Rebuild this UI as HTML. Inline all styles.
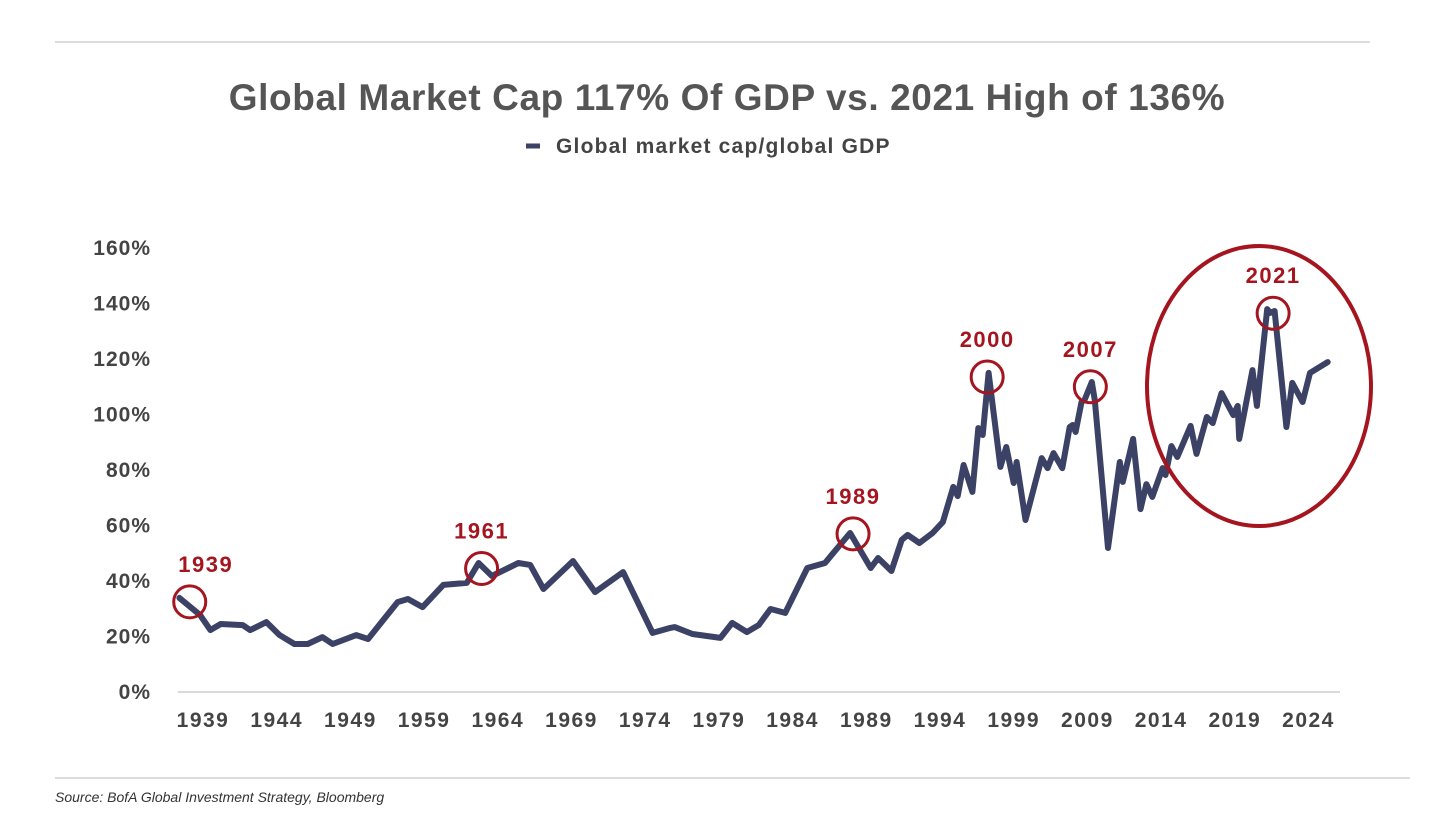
<!DOCTYPE html>
<html><head><meta charset="utf-8"><style>
body{margin:0;background:#fff;}
svg{display:block;font-family:"Liberation Sans",sans-serif;}
</style></head><body>
<svg id="chart" width="1456" height="819">
<line x1="55" y1="42" x2="1370" y2="42" stroke="#d0d0d0" stroke-width="1.5"/>
<text x="727" y="110" text-anchor="middle" font-size="37" font-weight="bold" fill="#555" letter-spacing="0.6">Global Market Cap 117% Of GDP vs. 2021 High of 136%</text>
<g>
<line x1="526" y1="146" x2="540" y2="146" stroke="#3b4266" stroke-width="5"/>
<text x="556" y="153" font-size="21" font-weight="bold" fill="#444" letter-spacing="1.2">Global market cap/global GDP</text>
</g>
<g id="yaxis"></g>
<g id="xaxis"></g>
<g id="series"></g>
<g id="annot"></g>
<line x1="55" y1="778" x2="1410" y2="778" stroke="#d0d0d0" stroke-width="1.5"/>
<text x="55" y="802" font-size="14" font-style="italic" fill="#333">Source: BofA Global Investment Strategy, Bloomberg</text>
</svg>
<script>
const xLabels=["1939","1944","1949","1959","1964","1969","1974","1979","1984","1989","1994","1999","2009","2014","2019","2024"];
const yTicks=[0,20,40,60,80,100,120,140,160];
const periods=[1937.4,1938.8,1939.5,1940.2,1941.7,1942.2,1943.3,1944.2,1945.2,1946.1,1947.1,1947.8,1949.4,1950.2,1952.2,1952.9,1953.9,1955.3,1956.9,1957.7,1958.6,1960.4,1961.2,1962.1,1964.1,1965.6,1967.5,1969.5,1970.7,1971.0,1972.2,1974.1,1974.9,1975.9,1976.7,1977.5,1978.5,1980.0,1981.2,1981.7,1982.9,1984.3,1984.8,1985.7,1986.4,1986.8,1987.6,1988.5,1989.2,1989.9,1990.2,1990.6,1991.2,1991.6,1991.9,1992.3,1993.1,1993.5,1994.0,1994.2,1994.8,1995.9,1996.3,1996.7,1997.3,1997.8,1998.0,1998.2,1998.6,1998.8,1999.3,1999.5,2000.4,2001.2,2001.4,2002.1,2002.6,2003.0,2003.4,2004.1,2004.3,2004.7,2005.1,2006.0,2006.4,2007.1,2007.5,2008.1,2008.9,2009.2,2009.3,2010.2,2010.5,2011.2,2011.4,2011.7,2012.5,2012.9,2013.6,2014.1,2015.3];
const values=[33.9,27.7,22.3,24.5,24.1,22.3,25.2,20.5,17.3,17.3,19.8,17.3,20.5,19.1,32.4,33.5,30.6,38.6,39.3,46.5,41.8,46.5,45.8,37.1,47.2,36.0,43.2,21.3,23.1,23.4,20.9,19.5,24.9,21.6,24.1,29.9,28.5,44.7,46.5,49.7,57.3,44.7,48.3,43.6,54.8,56.6,53.7,57.3,61.3,73.9,70.6,81.8,72.1,95.1,92.6,115.0,81.1,88.3,75.3,82.9,62.0,84.3,80.7,86.1,80.7,95.5,96.2,93.7,104.5,105.2,111.7,105.2,51.9,82.9,75.7,91.2,65.9,74.9,70.3,80.7,78.2,88.6,84.7,95.9,85.8,99.1,96.9,107.7,99.8,103.1,91.2,116.0,103.1,138.0,136.6,137.3,95.5,111.4,104.5,115.0,118.9];
const annLabels=["1939","1961","1989","2000","2007","2021"];
const annPeriods=[1938.1,1957.9,1983.1,1992.2,1999.2,2011.6];
const annValues=[32.5,44.5,57,113.5,110,136.5];

const NS="http://www.w3.org/2000/svg";
const X0=203,XSTEP=14.74,Y0=692,YK=2.775;
const xs=p=>X0+(p-1939)*XSTEP;
const ys=v=>Y0-v*YK;
function mk(t,a,parent){const e=document.createElementNS(NS,t);for(const k in a)e.setAttribute(k,a[k]);parent.appendChild(e);return e;}
const ya=document.getElementById('yaxis'),xa=document.getElementById('xaxis'),sg=document.getElementById('series'),an=document.getElementById('annot');
yTicks.forEach(v=>{const t=mk('text',{x:151,y:ys(v)+7,'text-anchor':'end','font-size':21,'font-weight':'bold',fill:'#444','letter-spacing':1},ya);t.textContent=v+'%';

});
const base=mk('line',{x1:178,y1:Y0,x2:1340,y2:Y0,stroke:'#d9d9d9','stroke-width':2},xa);


xLabels.forEach((l,i)=>{const t=mk('text',{x:xs(1939+5*i),y:727,'text-anchor':'middle','font-size':21,'font-weight':'bold',fill:'#444','letter-spacing':1.5},xa);t.textContent=l;

});
const d=periods.map((p,i)=>(i?'L':'M')+xs(p).toFixed(1)+','+ys(values[i]).toFixed(1)).join('');
const path=mk('path',{d:d,fill:'none',stroke:'#3b4266','stroke-width':6,'stroke-linejoin':'round','stroke-linecap':'round'},sg);


const RED='#a5151f';
annLabels.forEach((l,i)=>{const cx=xs(annPeriods[i]),cy=ys(annValues[i]);
const c=mk('circle',{cx:cx,cy:cy,r:16,fill:'none',stroke:RED,'stroke-width':3},an);


const t=mk('text',{x:cx+(i==0?16:0),y:cy-30,'text-anchor':'middle','font-size':22,'font-weight':'bold',fill:RED,'letter-spacing':1.5},an);t.textContent=l;

});
const el=mk('ellipse',{cx:1259,cy:386,rx:112,ry:140,fill:'none',stroke:RED,'stroke-width':4},an);


</script>
</body></html>
